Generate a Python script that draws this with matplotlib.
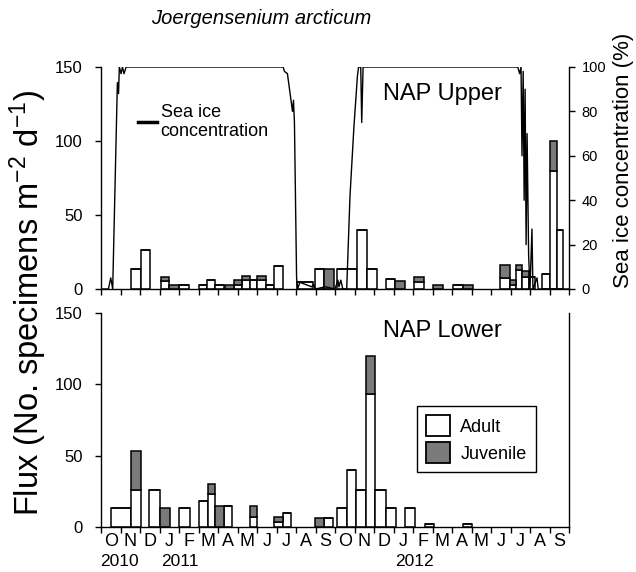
import numpy as np
import matplotlib
matplotlib.use('Agg')
from matplotlib import pyplot as plt
from matplotlib.patches import Patch
from matplotlib.lines import Line2D
import matplotlib.transforms as mtransforms

plt.rcParams['font.family'] = ['Liberation Sans', 'DejaVu Sans']
plt.rcParams['mathtext.fontset'] = 'custom'
plt.rcParams['mathtext.rm'] = 'Liberation Sans'
plt.rcParams['mathtext.it'] = 'Liberation Sans:italic'
plt.rcParams['mathtext.default'] = 'regular'

# x unit: months since 1 Oct 2010
month_labels = ['O', 'N', 'D', 'J', 'F', 'M', 'A', 'M', 'J', 'J', 'A', 'S',
                'O', 'N', 'D', 'J', 'F', 'M', 'A', 'M', 'J', 'J', 'A', 'S']
year_labels = ['2010', '2011', '2012']
year_pos = [0.93, 4.03, 16.05]

# NAP Upper trap: sample start, end (months), adult and juvenile flux
up_start = [1.52, 2.03, 3.06, 3.49, 4.00, 5.00, 5.42, 5.84, 6.38, 6.80, 7.23, 7.66,
            8.00, 8.48, 8.86, 10.03, 10.97, 11.45, 12.09, 13.12, 13.62, 14.62, 15.08,
            16.07, 17.04, 18.03, 18.55, 20.47, 20.96, 21.26, 21.60, 21.93, 22.63,
            23.02, 23.37]
up_end = [2.03, 2.49, 3.49, 4.00, 4.52, 5.42, 5.84, 6.32, 6.80, 7.23, 7.66, 8.00,
          8.48, 8.86, 9.34, 10.89, 11.45, 11.97, 13.12, 13.62, 14.14, 15.08, 15.60,
          16.58, 17.56, 18.55, 19.06, 20.96, 21.26, 21.60, 21.93, 22.28, 23.02,
          23.37, 23.68]
up_adult = [13.5, 26.6, 5.6, 0, 2.7, 2.7, 6.1, 2.7, 0, 2.7, 6.3, 6.3,
            6.3, 2.7, 15.3, 4.5, 13.7, 0, 13.7, 39.7, 13.7, 6.8, 0,
            4.5, 0, 2.7, 0, 7.4, 2.7, 12.6, 8.1, 8.1, 10.4,
            79.5, 39.6]
up_juv = [0, 0, 2.7, 2.7, 0, 0, 0, 0, 2.9, 3.4, 2.2, 0,
          2.2, 0, 0, 0, 0, 13.7, 0, 0, 0, 0, 5.6,
          3.8, 2.7, 0, 2.7, 8.6, 3.2, 3.4, 4.1, 0, 0,
          20.3, 0]

# NAP Lower trap
lo_start = [0.52, 1.53, 2.48, 3.05, 4.02, 5.00, 5.47, 5.86, 6.29, 7.62, 8.88, 9.31,
            10.96, 11.44, 12.08, 12.60, 13.07, 13.57, 14.07, 14.60, 15.57, 16.60, 18.56]
lo_end = [1.53, 2.03, 3.05, 3.52, 4.55, 5.47, 5.86, 6.29, 6.72, 8.02, 9.31, 9.72,
          11.44, 11.90, 12.60, 13.07, 13.57, 14.07, 14.60, 15.12, 16.08, 17.06, 19.04]
lo_adult = [13, 26, 26, 0, 13, 18, 23, 0, 15, 7, 3.5, 10,
            0, 6.5, 13, 40, 26, 93, 26, 13, 13, 2.3, 2.3]
lo_juv = [0, 27, 0, 13, 0, 0, 7, 15, 0, 8, 3.5, 0,
          6.5, 0, 0, 0, 0, 27, 0, 0, 0, 0, 0]

# sea ice concentration (%) at NAP
ice_month = [0.04, 0.38, 0.50, 0.60, 0.84, 0.90, 0.94, 1.03, 1.10, 1.18, 1.29,
             9.34, 9.41, 9.56, 9.82, 9.87, 9.92, 10.03, 10.08, 10.20, 10.50, 10.80,
             10.90, 11.00, 11.50, 12.00, 12.15, 12.20, 12.30, 12.40, 12.60,
             12.77, 12.97, 13.15, 13.21, 13.32, 13.37, 13.44,
             21.37, 21.47, 21.54, 21.59, 21.65, 21.70, 21.75, 21.80, 21.85, 21.93,
             22.00, 22.10, 22.15, 22.36, 22.42, 24.00]
ice_pct = [0, 0, 5, 0, 93, 88, 100, 97, 100, 97, 100,
           100, 98, 97, 80, 85, 75, 5, 0, 3, 2, 1,
           2, 0, 1, 0, 4, 1, 4, 0, 0,
           42, 73, 96, 100, 100, 75, 100,
           100, 97, 100, 60, 98, 40, 90, 20, 70, 15,
           0, 27, 0, 5, 0, 0]

gray = '#7a7a7a'

fig = plt.figure(figsize=(6.36, 5.72), dpi=100)
ax1 = fig.add_axes([101/636, 1 - 289/572, 468/636, 222/572])
ax2 = fig.add_axes([101/636, 1 - 527/572, 468/636, 214/572])


def draw_traps(ax, start, end, adult, juv):
    start = np.array(start)
    width = np.array(end) - start
    adult = np.array(adult)
    ax.bar(start, adult, width, align='edge', facecolor='white',
           edgecolor='black', linewidth=1.1, zorder=2)
    ax.bar(start, juv, width, bottom=adult, align='edge', facecolor=gray,
           edgecolor='black', linewidth=1.1, zorder=2)


draw_traps(ax1, up_start, up_end, up_adult, up_juv)
draw_traps(ax2, lo_start, lo_end, lo_adult, lo_juv)

for ax in (ax1, ax2):
    ax.set_xlim(0, 24)
    ax.set_ylim(0, 150)
    ax.set_yticks([0, 50, 100, 150])
    ax.set_xticks(np.arange(0, 25))
    ax.tick_params(axis='x', direction='out', length=4, width=1, labelbottom=False)
    ax.tick_params(axis='y', direction='out', length=4, width=1, labelsize=12, pad=9)
    ax.spines['top'].set_visible(False)
    for s in ax.spines.values():
        s.set_linewidth(1)

ax1.spines['right'].set_visible(False)

# month letters centred in each month
ax2.set_xticks(np.arange(24) + 0.5, minor=True)
ax2.set_xticklabels(month_labels, minor=True)
ax2.tick_params(axis='x', which='minor', length=0, labelsize=13, pad=4,
                labelbottom=True)
trans = mtransforms.blended_transform_factory(ax2.transData, ax2.transAxes)
for pos, yr in zip(year_pos, year_labels):
    ax2.text(pos, -0.16, yr, transform=trans, ha='center', va='center', fontsize=12.5)

# sea ice on a second axis
ax1b = ax1.twinx()
ax1b.plot(ice_month, ice_pct, color='black', linewidth=1, zorder=3)
ax1b.set_ylim(0, 100)
ax1b.set_xlim(0, 24)
ax1b.set_yticks([0, 20, 40, 60, 80, 100])
ax1b.tick_params(axis='y', direction='out', length=4, width=1, labelsize=10.5, pad=5)
ax1b.spines['top'].set_visible(False)
ax1b.spines['left'].set_visible(False)
ax1b.spines['bottom'].set_visible(False)
ax1b.spines['right'].set_linewidth(1)

ax1b.legend(handles=[Line2D([], [], color='black', linewidth=2.5)],
            labels=['Sea ice\nconcentration'], loc='upper left',
            bbox_to_anchor=(0.079, 0.835), frameon=False, fontsize=13,
            handlelength=1.05, handletextpad=0.2, borderpad=0, borderaxespad=0)

ax1.text(0.73, 0.88, 'NAP Upper', transform=ax1.transAxes, ha='center',
         va='center', fontsize=17)
ax2.text(0.73, 0.915, 'NAP Lower', transform=ax2.transAxes, ha='center',
         va='center', fontsize=17)

leg = ax2.legend(handles=[Patch(facecolor='white', edgecolor='black', linewidth=1.3),
                          Patch(facecolor=gray, edgecolor='black', linewidth=1.3)],
                 labels=['Adult', 'Juvenile'], loc='upper left',
                 bbox_to_anchor=(0.675, 0.565), fontsize=13, fancybox=False,
                 framealpha=1, edgecolor='black', handlelength=1.35,
                 handleheight=1.4, handletextpad=0.55, labelspacing=0.35,
                 borderpad=0.5, borderaxespad=0)
leg.get_frame().set_linewidth(1)

fig.text(261/636, 1 - 18/572, 'Joergensenium arcticum', ha='center', va='center',
         fontsize=14.5, style='italic')
fig.text(28/636, 1 - 303/572, 'Flux (No. specimens m$^{-2}$ d$^{-1}$)',
         rotation=90, ha='center', va='center', fontsize=23.5)
fig.text(624/636, 1 - 160/572, 'Sea ice concentration (%)', rotation=90,
         ha='center', va='center', fontsize=16)

fig.savefig('out.png', dpi=100)
